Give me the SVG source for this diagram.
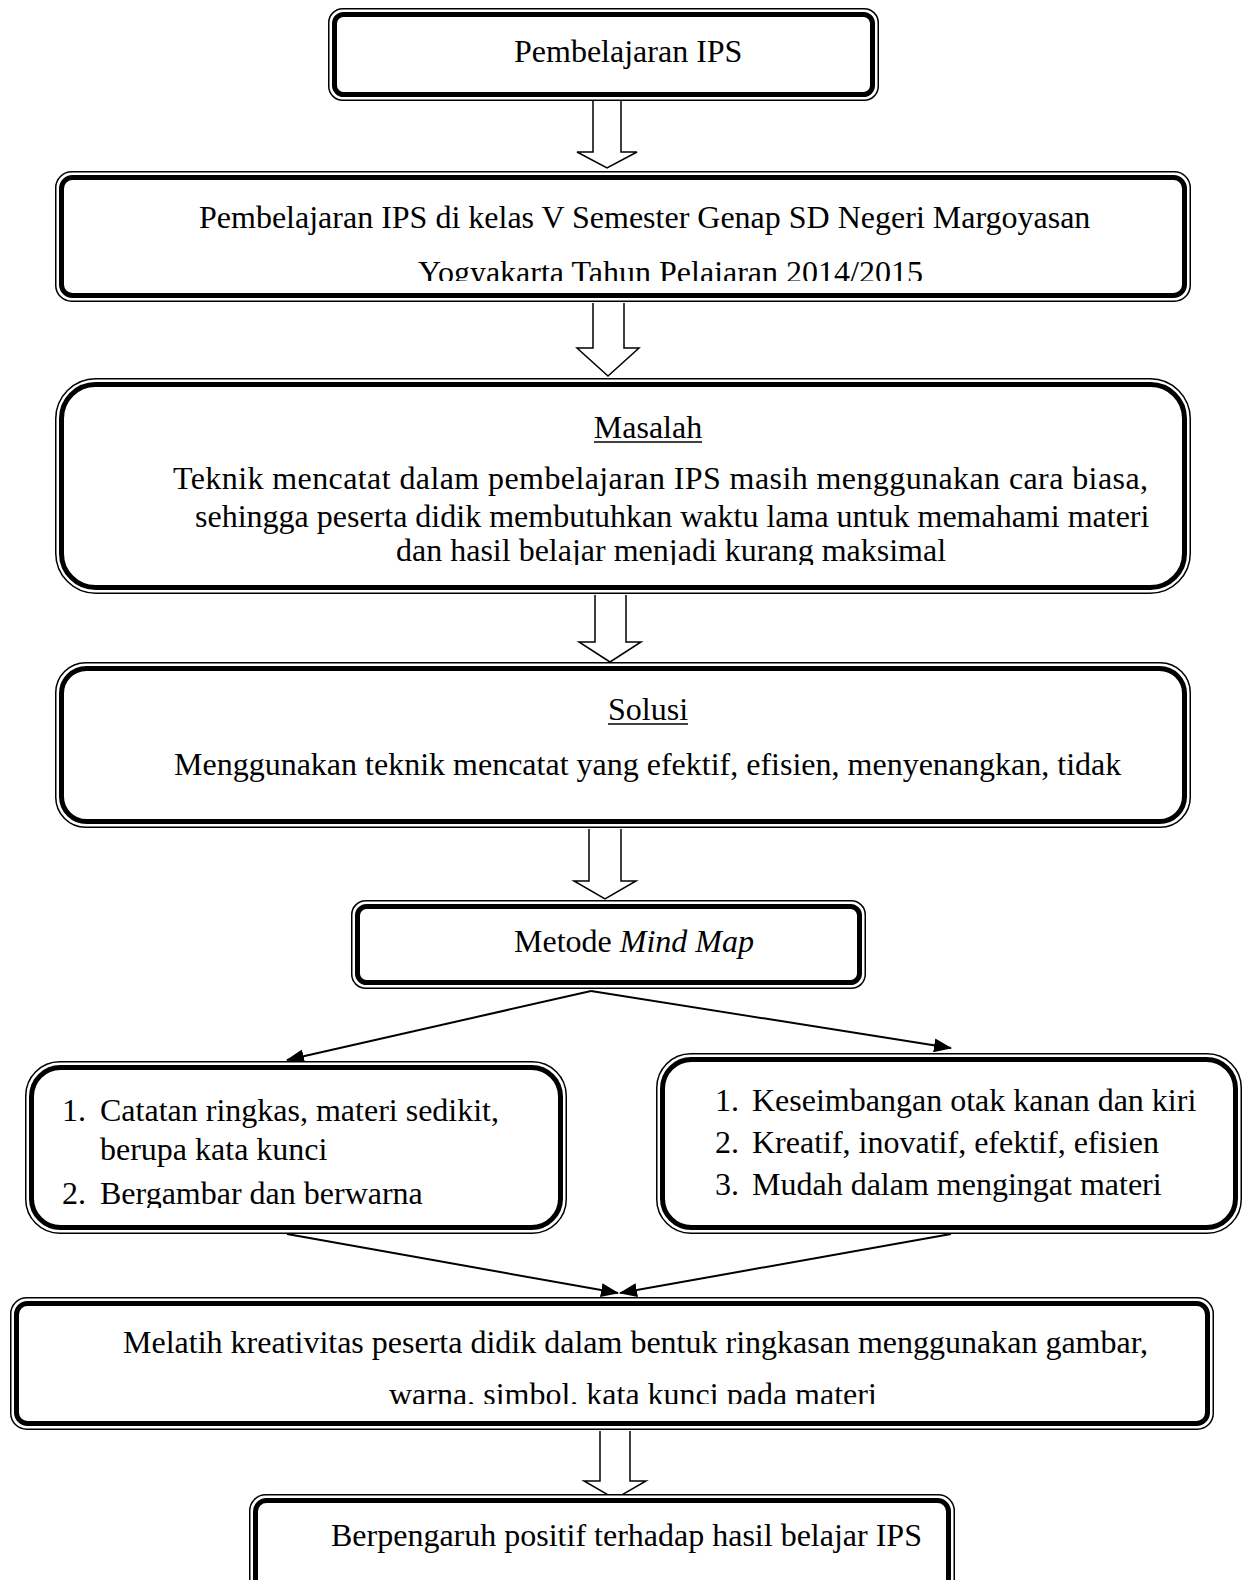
<svg xmlns="http://www.w3.org/2000/svg" width="1248" height="1580" viewBox="0 0 1248 1580">
<style>
.o{fill:#fff;stroke:#000;stroke-width:1.5}
.k{fill:none;stroke:#000;stroke-width:5}
.t{font-family:"Liberation Serif","Times New Roman",serif;font-size:32px;fill:#000}
.bl{fill:#fff;stroke:#000;stroke-width:1.5;stroke-linejoin:miter}
.ln{stroke:#000;stroke-width:2;fill:none}
.ul{stroke:#000;stroke-width:1.5}
</style>
<defs>
<marker id="ah" markerUnits="userSpaceOnUse" markerWidth="18" markerHeight="14" refX="17" refY="7" orient="auto">
<path d="M0,0 L18,7 L0,14 Z" fill="#000"/>
</marker>
<clipPath id="c2"><rect x="60" y="176" width="1126" height="105"/></clipPath>
<clipPath id="c3"><rect x="60" y="383" width="1126" height="182"/></clipPath>
<clipPath id="c6"><rect x="30" y="1066" width="532" height="142"/></clipPath>
<clipPath id="c8"><rect x="15" y="1302" width="1194" height="102"/></clipPath>
</defs>
<rect width="1248" height="1580" fill="#fff"/>

<g id="connectors">
<path class="bl" d="M593,101 V152 H577 L607,168 L637,152 H621 V101"/>
<path class="bl" d="M593,303 V348 H577 L608,376 L639,348 H624 V303"/>
<path class="bl" d="M595,595 V642 H579 L610,662 L641,642 H626 V595"/>
<path class="bl" d="M589,829 V881 H574 L605,899 L636,881 H621 V829"/>
<path class="bl" d="M600,1431 V1481 H584 L615,1499 L646,1481 H630 V1431"/>
<line class="ln" x1="591" y1="991" x2="287" y2="1060" marker-end="url(#ah)"/>
<line class="ln" x1="591" y1="991" x2="951" y2="1048" marker-end="url(#ah)"/>
<line class="ln" x1="287" y1="1234" x2="618" y2="1293" marker-end="url(#ah)"/>
<line class="ln" x1="951" y1="1234" x2="620" y2="1293" marker-end="url(#ah)"/>
</g>

<g id="n1">
<rect class="o" x="328.75" y="8.75" width="549.5" height="91.5" rx="14"/>
<rect class="k" x="334.5" y="14.5" width="538" height="80" rx="9"/>
<text class="t" x="514" y="62">Pembelajaran IPS</text>
</g>

<g id="n2">
<rect class="o" x="55.75" y="171.75" width="1134.5" height="129.5" rx="16"/>
<rect class="k" x="61.5" y="177.5" width="1123" height="118" rx="11"/>
<g clip-path="url(#c2)">
<text class="t" x="199" y="228">Pembelajaran IPS di kelas V Semester Genap SD Negeri Margoyasan</text>
<text class="t" x="418" y="283">Yogyakarta Tahun Pelajaran 2014/2015</text>
</g>
</g>

<g id="n3">
<rect class="o" x="55.75" y="378.75" width="1134.5" height="214.5" rx="40"/>
<rect class="k" x="61.5" y="384.5" width="1123" height="203" rx="34"/>
<text class="t" x="648" y="438" text-anchor="middle">Masalah</text>
<line class="ul" x1="594" y1="442" x2="702" y2="442"/>
<g clip-path="url(#c3)">
<text class="t" x="173" y="489" textLength="975" lengthAdjust="spacing">Teknik mencatat dalam pembelajaran IPS masih menggunakan cara biasa,</text>
<text class="t" x="195" y="527">sehingga peserta didik membutuhkan waktu lama untuk memahami materi</text>
<text class="t" x="396" y="561">dan hasil belajar menjadi kurang maksimal</text>
</g>
</g>

<g id="n4">
<rect class="o" x="55.75" y="662.75" width="1134.5" height="164.5" rx="30"/>
<rect class="k" x="61.5" y="668.5" width="1123" height="153" rx="25"/>
<text class="t" x="648" y="720" text-anchor="middle">Solusi</text>
<line class="ul" x1="608" y1="724" x2="688" y2="724"/>
<text class="t" x="174" y="775">Menggunakan teknik mencatat yang efektif, efisien, menyenangkan, tidak</text>
</g>

<g id="n5">
<rect class="o" x="351.75" y="900.75" width="513.5" height="87.5" rx="14"/>
<rect class="k" x="357.5" y="906.5" width="502" height="76" rx="9"/>
<text class="t" x="514" y="952">Metode <tspan font-style="italic">Mind Map</tspan></text>
</g>

<g id="n6">
<rect class="o" x="25.75" y="1061.75" width="540.5" height="171.5" rx="34"/>
<rect class="k" x="31.5" y="1067.5" width="529" height="160" rx="29"/>
<g clip-path="url(#c6)">
<text class="t" x="62" y="1121">1.</text>
<text class="t" x="100" y="1121">Catatan ringkas, materi sedikit,</text>
<text class="t" x="100" y="1160">berupa kata kunci</text>
<text class="t" x="62" y="1204">2.</text>
<text class="t" x="100" y="1204">Bergambar dan berwarna</text>
</g>
</g>

<g id="n7">
<rect class="o" x="656.75" y="1053.75" width="584.5" height="179.5" rx="34"/>
<rect class="k" x="662.5" y="1059.5" width="573" height="168" rx="29"/>
<text class="t" x="715" y="1111">1.</text>
<text class="t" x="752" y="1111">Keseimbangan otak kanan dan kiri</text>
<text class="t" x="715" y="1153">2.</text>
<text class="t" x="752" y="1153">Kreatif, inovatif, efektif, efisien</text>
<text class="t" x="715" y="1195">3.</text>
<text class="t" x="752" y="1195">Mudah dalam mengingat materi</text>
</g>

<g id="n8">
<rect class="o" x="10.75" y="1297.75" width="1202.5" height="131.5" rx="16"/>
<rect class="k" x="16.5" y="1303.5" width="1191" height="120" rx="11"/>
<g clip-path="url(#c8)">
<text class="t" x="123" y="1353">Melatih kreativitas peserta didik dalam bentuk ringkasan menggunakan gambar,</text>
<text class="t" x="389" y="1405">warna, simbol, kata kunci pada materi</text>
</g>
</g>

<g id="n9">
<rect class="o" x="249.75" y="1494.75" width="704.5" height="100" rx="16"/>
<rect class="k" x="255.5" y="1500.5" width="693" height="100" rx="11"/>
<text class="t" x="331" y="1546">Berpengaruh positif terhadap hasil belajar IPS</text>
</g>
</svg>
